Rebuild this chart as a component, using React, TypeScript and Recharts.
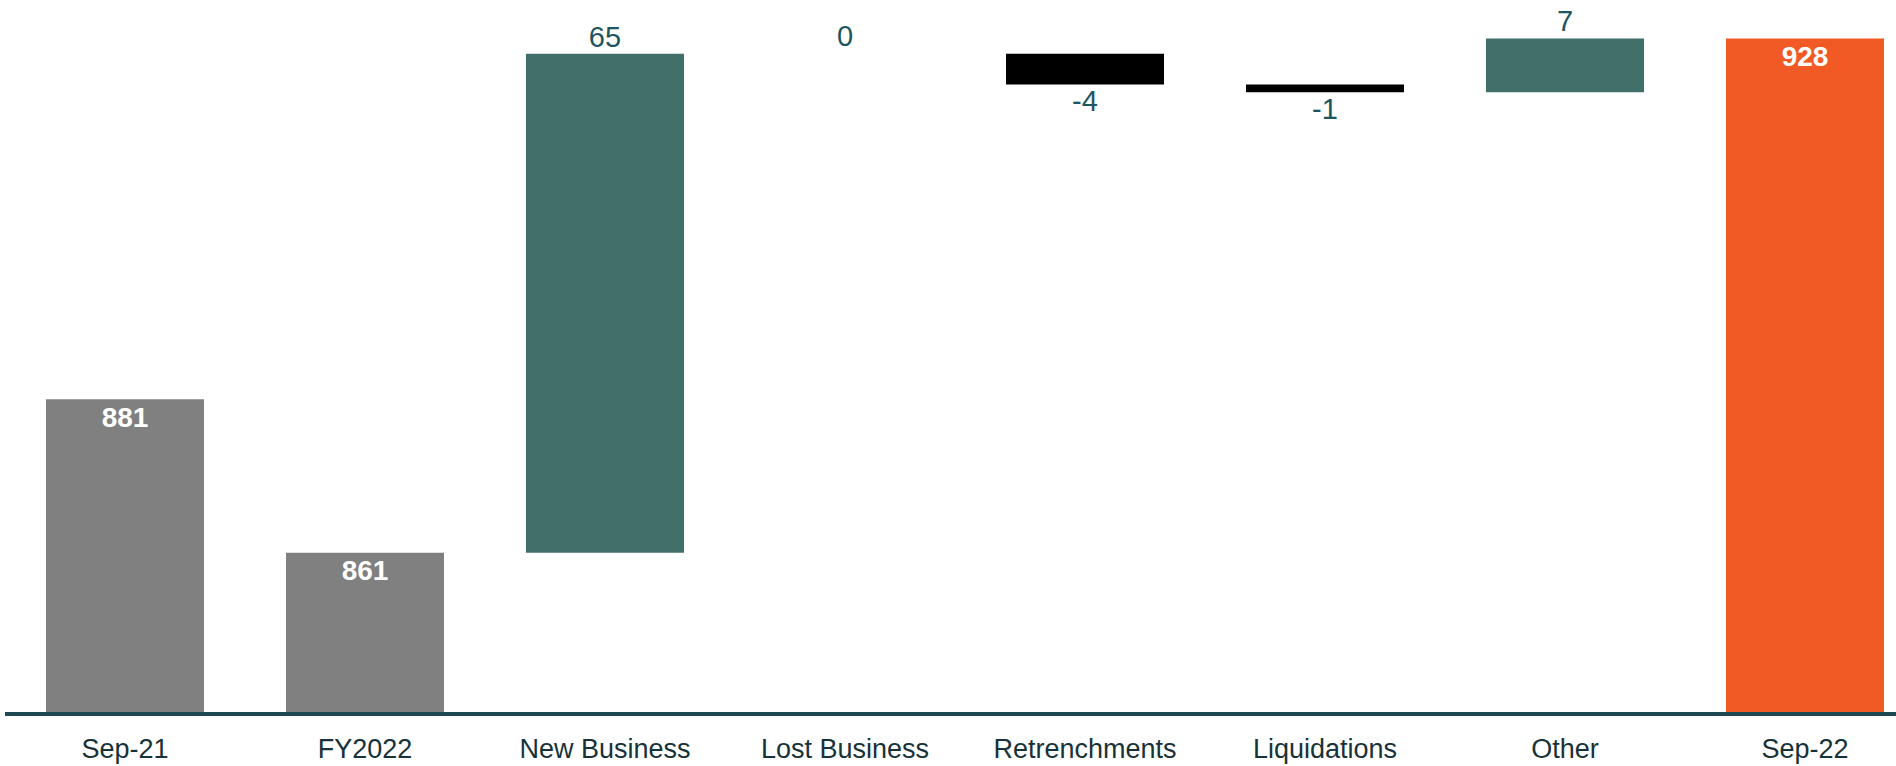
import { BarChart, Bar, XAxis, YAxis, Cell, LabelList } from 'recharts';

const categories = ['Sep-21', 'FY2022', 'New Business', 'Lost Business', 'Retrenchments', 'Liquidations', 'Other', 'Sep-22'];
const values = [881, 861, 65, 0, -4, -1, 7, 928];
const kinds = ['total', 'total', 'delta', 'delta', 'delta', 'delta', 'delta', 'end'];

const FONT = '"Liberation Sans", Arial, sans-serif';
const TEAL = '#41706a';
const LABEL_TEAL = '#1d5560';

// build floating ranges for the waterfall
let running = 0;
const data = categories.map((name, i) => {
  const v = values[i];
  let range: [number, number];
  if (kinds[i] === 'delta') {
    const start = running;
    running += v;
    range = [Math.min(start, running), Math.max(start, running)];
  } else {
    running = v;
    range = [0, v];
  }
  return { name, range, idx: i };
});

const barColor = (i: number) => {
  if (kinds[i] === 'end') return '#f15a24';
  if (kinds[i] === 'total') return '#808080';
  if (values[i] === 0) return 'transparent';
  return values[i] < 0 ? '#000000' : TEAL;
};

const renderLabel = (props: any) => {
  const vb = props.viewBox ?? props;
  const { x, y, width, height } = vb;
  const index = Number(props.value);
  const v = values[index];
  const cx = x + width / 2;
  const top = Math.min(y, y + height);
  const bottom = Math.max(y, y + height);
  if (kinds[index] !== 'delta') {
    return (
      <text x={cx} y={top + 18} fill="#ffffff" fontWeight="bold" fontSize={28} fontFamily={FONT} textAnchor="middle" dominantBaseline="central">
        {v}
      </text>
    );
  }
  const ly = v < 0 ? bottom + 17 : top - 17;
  return (
    <text x={cx} y={ly} fill={LABEL_TEAL} fontSize={29} fontFamily={FONT} textAnchor="middle" dominantBaseline="central">
      {v}
    </text>
  );
};

export default function App() {
  return (
    <div style={{ position: 'fixed', left: 0, top: 0, width: 1896, height: 766, overflow: 'hidden', background: '#fff' }}>
      <BarChart width={1930} height={766} data={data} margin={{ top: 0, right: 5, left: 5, bottom: 0 }}>
        <XAxis
          dataKey="name"
          height={52}
          tickLine={false}
          tickMargin={19}
          axisLine={{ stroke: '#1d4a50', strokeWidth: 4 }}
          tick={{ fontSize: 27, fill: '#173238', fontFamily: FONT }}
          interval={0}
        />
        <YAxis hide domain={[840, 933]} allowDataOverflow />
        <Bar dataKey="range" barSize={158} minPointSize={1} isAnimationActive={false}>
          {data.map((d, i) => (
            <Cell key={d.name} fill={barColor(i)} />
          ))}
          <LabelList dataKey="idx" content={renderLabel} />
        </Bar>
      </BarChart>
    </div>
  );
}
